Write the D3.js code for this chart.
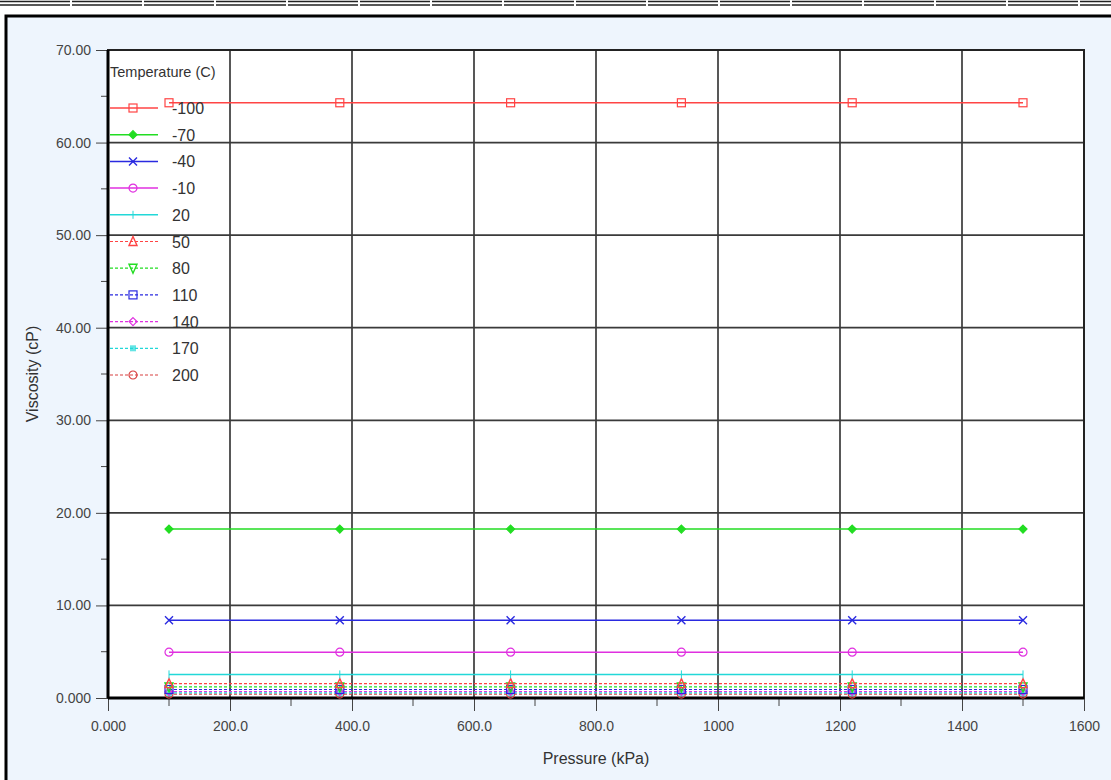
<!DOCTYPE html>
<html>
<head>
<meta charset="utf-8">
<script src="https://cdn.jsdelivr.net/npm/d3@7"></script>
<style>
  body { margin: 0; background: #fff; }
  svg { display: block; font-family: "Liberation Sans", Arial, sans-serif; }
</style>
</head>
<body>
<div class="chart"></div>
<script>
// data
const pressures = [100, 380, 660, 940, 1220, 1500];
const temperatures = ["-100", "-70", "-40", "-10", "20", "50", "80", "110", "140", "170", "200"];
const viscosity = [64.3, 18.25, 8.4, 4.95, 2.55, 1.55, 1.2, 0.92, 0.7, 0.55, 0.42];
const seriesColors = ["#ff4444", "#22dd22", "#2a2ae0", "#e030e0", "#22d8d8", "#ff4444", "#22dd22", "#2a2ae0", "#e030e0", "#22d8d8", "#d84040"];
const seriesMarkers = ["square", "diamondFill", "cross", "circle", "plus", "triangle", "triangleDown", "square", "diamond", "starFill", "circle"];
const seriesDashed = [false, false, false, false, false, true, true, true, true, true, true];
const xTicks = [0, 200, 400, 600, 800, 1000, 1200, 1400, 1600];
const xTickLabels = ["0.000", "200.0", "400.0", "600.0", "800.0", "1000", "1200", "1400", "1600"];
const yTicks = [0, 10, 20, 30, 40, 50, 60, 70];
const yTickLabels = ["0.000", "10.00", "20.00", "30.00", "40.00", "50.00", "60.00", "70.00"];

const W = 1111, H = 780;
const margin = {top: 50, right: 27, bottom: 82, left: 108};
const width = W - margin.left - margin.right;
const height = H - margin.top - margin.bottom;

const svg = d3.select(".chart").append("svg")
  .attr("width", W)
  .attr("height", H);

// outer panel + top dashed rules
svg.append("line").attr("x1", 0).attr("x2", W).attr("y1", 1.5).attr("y2", 1.5)
  .attr("stroke", "#222").attr("stroke-width", 1.5).attr("stroke-dasharray", "70,2");
svg.append("line").attr("x1", 0).attr("x2", W).attr("y1", 5).attr("y2", 5)
  .attr("stroke", "#222").attr("stroke-width", 1.5).attr("stroke-dasharray", "70,2");
svg.append("rect")
  .attr("x", 6).attr("y", 16).attr("width", W + 10).attr("height", H)
  .attr("fill", "#eef5fd").attr("stroke", "#000").attr("stroke-width", 3);

const g = svg.append("g").attr("transform", `translate(${margin.left},${margin.top})`);

const x = d3.scaleLinear().domain([0, 1600]).range([0, width]);
const y = d3.scaleLinear().domain([0, 70]).range([height, 0]);

g.append("rect").attr("width", width).attr("height", height).attr("fill", "#fff");

// grid
g.selectAll(null).data(xTicks.slice(1, -1)).enter().append("line")
  .attr("x1", d => x(d)).attr("x2", d => x(d)).attr("y1", 0).attr("y2", height)
  .attr("stroke", "#3a3a3a").attr("stroke-width", 1.7);
g.selectAll(null).data(yTicks.slice(1, -1)).enter().append("line")
  .attr("y1", d => y(d)).attr("y2", d => y(d)).attr("x1", 0).attr("x2", width)
  .attr("stroke", "#3a3a3a").attr("stroke-width", 1.7);

// axes
const xMinor = d3.range(100, 1600, 200);
const yMinor = d3.range(5, 70, 10);

const bottomAxis = d3.axisBottom(x).tickValues(xTicks)
  .tickFormat((d, i) => xTickLabels[i]).tickSize(13).tickPadding(10);
const gx = g.append("g").attr("transform", `translate(0,${height})`).call(bottomAxis);
gx.attr("font-size", 14).attr("font-family", "Liberation Sans, Arial");
gx.select(".domain").remove();
gx.selectAll(".tick line").attr("stroke", "#444");
gx.selectAll("text").attr("fill", "#444");
g.selectAll(null).data(xMinor).enter().append("line")
  .attr("x1", d => x(d)).attr("x2", d => x(d)).attr("y1", height).attr("y2", height + 8)
  .attr("stroke", "#444");

const leftAxis = d3.axisLeft(y).tickValues(yTicks)
  .tickFormat((d, i) => yTickLabels[i]).tickSize(12).tickPadding(5);
const gy = g.append("g").call(leftAxis);
gy.attr("font-size", 14).attr("font-family", "Liberation Sans, Arial");
gy.select(".domain").remove();
gy.selectAll(".tick line").attr("stroke", "#444");
gy.selectAll("text").attr("fill", "#444");
g.selectAll(null).data(yMinor).enter().append("line")
  .attr("y1", d => y(d)).attr("y2", d => y(d)).attr("x1", 0).attr("x2", -7)
  .attr("stroke", "#444");

// frame
g.append("rect").attr("width", width).attr("height", height)
  .attr("fill", "none").attr("stroke", "#222").attr("stroke-width", 2);
g.append("line").attr("x1", 0).attr("x2", 0).attr("y1", 0).attr("y2", height)
  .attr("stroke", "#000").attr("stroke-width", 3);
g.append("line").attr("x1", 0).attr("x2", width).attr("y1", height).attr("y2", height)
  .attr("stroke", "#000").attr("stroke-width", 3);

// axis titles
g.append("text").attr("x", width / 2).attr("y", height + 66)
  .attr("text-anchor", "middle").attr("font-size", 16).attr("fill", "#333")
  .text("Pressure (kPa)");
g.append("text").attr("transform", "rotate(-90)")
  .attr("x", -height / 2).attr("y", -70)
  .attr("text-anchor", "middle").attr("font-size", 16).attr("fill", "#333")
  .text("Viscosity (cP)");

// markers
function drawMarker(sel, type, color) {
  const s = 4;
  if (type === "square") {
    sel.append("rect").attr("x", -s).attr("y", -s).attr("width", 2 * s).attr("height", 2 * s)
      .attr("fill", "none").attr("stroke", color).attr("stroke-width", 1.2);
  } else if (type === "circle") {
    sel.append("circle").attr("r", s).attr("fill", "none").attr("stroke", color).attr("stroke-width", 1.2);
  } else if (type === "diamondFill" || type === "diamond") {
    sel.append("path").attr("d", `M0,${-s}L${s},0L0,${s}L${-s},0Z`)
      .attr("fill", type === "diamondFill" ? color : "none").attr("stroke", color).attr("stroke-width", 1.2);
  } else if (type === "cross") {
    sel.append("path").attr("d", `M${-s},${-s}L${s},${s}M${-s},${s}L${s},${-s}`)
      .attr("stroke", color).attr("stroke-width", 1.4);
  } else if (type === "plus") {
    sel.append("path").attr("d", `M0,${-s}L0,${s}`).attr("stroke", color).attr("stroke-width", 1);
  } else if (type === "triangle") {
    sel.append("path").attr("d", `M0,${-s - 1}L${s},${s}L${-s},${s}Z`)
      .attr("fill", "none").attr("stroke", color).attr("stroke-width", 1.4);
  } else if (type === "triangleDown") {
    sel.append("path").attr("d", `M0,${s + 1}L${s},${-s}L${-s},${-s}Z`)
      .attr("fill", "none").attr("stroke", color).attr("stroke-width", 1.4);
  } else if (type === "starFill") {
    sel.append("rect").attr("x", -3).attr("y", -3).attr("width", 6).attr("height", 6)
      .attr("fill", color).attr("opacity", 0.7);
  }
}

const line = d3.line().x(d => x(d[0])).y(d => y(d[1]));

// draw series from last to first so the top ones sit on top
for (let i = temperatures.length - 1; i >= 0; i--) {
  const pts = pressures.map(p => [p, viscosity[i]]);
  g.append("path").datum(pts).attr("d", line)
    .attr("fill", "none").attr("stroke", seriesColors[i])
    .attr("stroke-width", seriesDashed[i] ? 1.2 : 1.5)
    .attr("stroke-dasharray", seriesDashed[i] ? "3,2" : null);
  pts.forEach(p => {
    const m = g.append("g").attr("transform", `translate(${x(p[0])},${y(p[1])})`);
    drawMarker(m, seriesMarkers[i], seriesColors[i]);
  });
}

// legend
const lg = g.append("g").attr("transform", "translate(2,0)");
lg.append("text").attr("x", 0).attr("y", 27).attr("font-size", 14.5).attr("fill", "#333")
  .text("Temperature (C)");
temperatures.forEach((t, i) => {
  const yy = 58 + i * 26.7;
  const row = lg.append("g").attr("transform", `translate(0,${yy})`);
  row.append("line").attr("x1", 0).attr("x2", 48).attr("y1", 0).attr("y2", 0)
    .attr("stroke", seriesColors[i]).attr("stroke-width", seriesDashed[i] ? 1.2 : 1.5)
    .attr("stroke-dasharray", seriesDashed[i] ? "3,2" : null);
  drawMarker(row.append("g").attr("transform", "translate(23,0)"), seriesMarkers[i], seriesColors[i]);
  row.append("text").attr("x", 62).attr("y", 6).attr("font-size", 16).attr("fill", "#333").text(t);
});
</script>
</body>
</html>
